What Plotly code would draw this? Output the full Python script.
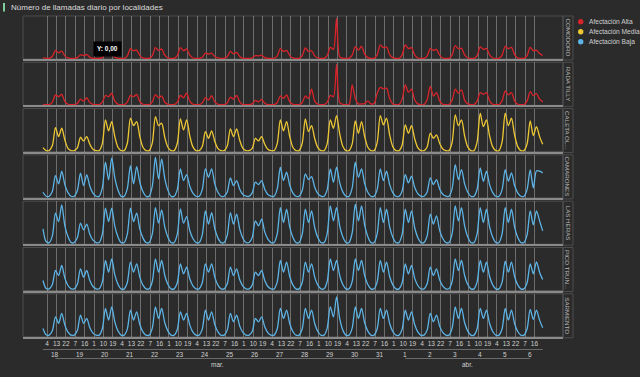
import pandas as pd
import plotly.graph_objects as go
from plotly.subplots import make_subplots

TITLE = "Número de llamadas diario por localidades"
LOCALIDADES = ["COMODORO", "RADA TILLY", "CALETA OL...", "CAMARONES",
               "LAS HERAS", "PICO TRUN...", "SARMIENTO"]
AFECTACION = ["Alta", "Alta", "Media", "Baja", "Baja", "Baja", "Baja"]
LEGEND_LABELS = ["Afectación Alta", "Afectación Media", "Afectación Baja"]
LEGEND_KEYS = ["Alta", "Media", "Baja"]
COLORS = {"Alta": "#d8232a", "Media": "#eec833", "Baja": "#5db4e6"}

# samples every 3 hours: 00,03,06,09,12,15,18,21 per day, 18-mar .. 6-abr, plus 7-abr 00h
TIMES = pd.date_range("2020-03-18 00:00", "2020-04-07 00:00", freq="3h")
DAYS = ["18", "19", "20", "21", "22", "23", "24", "25", "26", "27", "28", "29", "30", "31",
        "1", "2", "3", "4", "5", "6"]
DAY_DATES = pd.date_range("2020-03-18 12:00", "2020-04-06 12:00", freq="D")
MONTHS = ["mar.", "abr."]
MONTH_DATES = ["2020-03-25 00:00", "2020-04-04 00:00"]
HOUR_TICKS = pd.date_range("2020-03-18 04:00", "2020-04-06 16:00", freq="9h")

comodoro = [
    3, 2, 2, 8, 25, 18, 23, 9,
    3, 2, 2, 4, 12, 10, 13, 5,
    2, 2, 2, 4, 13, 10, 12, 5,
    2, 2, 2, 9, 30, 24, 26, 10,
    3, 2, 2, 10, 33, 25, 29, 11,
    3, 2, 2, 10, 33, 24, 29, 11,
    3, 2, 2, 5, 17, 14, 17, 7,
    3, 2, 2, 7, 22, 15, 19, 7,
    2, 2, 2, 3, 10, 9, 11, 4,
    2, 2, 2, 9, 30, 22, 25, 10,
    3, 2, 2, 10, 32, 22, 24, 9,
    3, 2, 2, 10, 34, 28, 119, 6,
    2, 2, 2, 11, 36, 26, 37, 14,
    4, 2, 2, 12, 41, 33, 35, 13,
    4, 2, 2, 12, 41, 30, 33, 12,
    3, 2, 2, 9, 30, 25, 28, 11,
    3, 2, 2, 12, 39, 30, 31, 12,
    3, 2, 2, 10, 35, 28, 31, 12,
    3, 2, 2, 11, 37, 30, 34, 13,
    3, 2, 2, 10, 34, 24, 26, 16,
    10]
rada_tilly = [
    3, 2, 2, 9, 30, 25, 32, 11,
    3, 2, 2, 5, 18, 12, 22, 8,
    3, 2, 2, 9, 29, 25, 35, 12,
    3, 2, 2, 9, 29, 25, 32, 11,
    3, 2, 2, 10, 31, 22, 27, 9,
    3, 2, 2, 9, 29, 22, 35, 12,
    3, 2, 2, 7, 22, 15, 28, 10,
    3, 2, 2, 7, 24, 18, 29, 10,
    2, 2, 2, 4, 14, 10, 17, 6,
    2, 2, 2, 8, 27, 20, 30, 10,
    3, 2, 2, 8, 27, 20, 47, 12,
    3, 2, 2, 9, 29, 25, 119, 8,
    3, 2, 2, 59, 20, 4, 4, 5,
    13, 4, 5, 35, 52, 48, 50, 20,
    4, 2, 2, 18, 59, 38, 47, 16,
    4, 2, 2, 17, 55, 27, 37, 13,
    3, 2, 2, 15, 47, 35, 45, 15,
    4, 2, 2, 12, 37, 32, 37, 13,
    3, 2, 2, 13, 42, 30, 37, 13,
    3, 2, 2, 12, 40, 28, 34, 18,
    10]
caleta_ol = [
    12, 3, 3, 18, 72, 45, 70, 35,
    10, 3, 3, 11, 43, 32, 45, 22,
    7, 3, 3, 24, 95, 62, 90, 45,
    13, 3, 3, 25, 100, 78, 90, 45,
    13, 3, 3, 26, 105, 78, 85, 42,
    13, 3, 3, 25, 98, 65, 95, 47,
    14, 3, 3, 15, 60, 40, 62, 31,
    9, 3, 3, 17, 68, 45, 68, 34,
    10, 3, 3, 10, 40, 32, 45, 22,
    7, 3, 3, 24, 95, 62, 90, 45,
    13, 3, 3, 25, 98, 60, 78, 39,
    12, 3, 3, 24, 95, 70, 108, 54,
    16, 3, 3, 23, 92, 55, 90, 45,
    13, 3, 3, 27, 108, 80, 100, 50,
    15, 3, 3, 20, 80, 55, 78, 39,
    12, 3, 3, 14, 55, 40, 50, 25,
    8, 3, 3, 28, 110, 78, 95, 47,
    14, 3, 3, 29, 115, 75, 95, 47,
    14, 3, 3, 29, 115, 78, 100, 50,
    15, 3, 3, 23, 92, 48, 75, 45,
    22]
camarones = [
    17, 5, 5, 20, 67, 42, 80, 40,
    16, 5, 5, 22, 74, 37, 70, 35,
    14, 5, 5, 30, 107, 54, 120, 60,
    24, 5, 5, 28, 97, 42, 94, 47,
    19, 5, 5, 35, 122, 57, 117, 58,
    23, 5, 5, 25, 87, 52, 70, 35,
    14, 5, 5, 25, 87, 62, 87, 43,
    17, 5, 5, 18, 60, 37, 52, 26,
    10, 5, 5, 15, 47, 40, 52, 26,
    10, 5, 5, 27, 92, 52, 77, 38,
    15, 5, 5, 22, 72, 55, 64, 32,
    13, 5, 5, 25, 87, 47, 92, 46,
    18, 5, 5, 30, 107, 62, 87, 43,
    17, 5, 5, 25, 87, 52, 80, 40,
    16, 5, 5, 21, 70, 45, 65, 32,
    13, 5, 5, 18, 60, 40, 55, 27,
    11, 5, 5, 28, 100, 55, 85, 42,
    17, 5, 5, 26, 90, 50, 80, 40,
    16, 5, 5, 25, 85, 50, 75, 37,
    15, 5, 5, 25, 84, 30, 81, 80,
    75]
las_heras = [
    46, 8, 5, 25, 93, 68, 118, 55,
    23, 5, 5, 19, 63, 43, 60, 30,
    12, 5, 5, 30, 108, 68, 108, 54,
    22, 5, 5, 30, 108, 68, 93, 46,
    19, 5, 5, 31, 110, 63, 103, 51,
    21, 5, 5, 30, 106, 63, 83, 41,
    17, 5, 5, 28, 100, 60, 95, 47,
    19, 5, 5, 27, 95, 60, 90, 45,
    18, 5, 5, 20, 70, 55, 75, 37,
    15, 5, 5, 31, 110, 65, 105, 52,
    21, 5, 5, 30, 105, 65, 100, 50,
    20, 5, 5, 32, 115, 70, 110, 55,
    22, 5, 5, 34, 120, 70, 115, 57,
    23, 5, 5, 31, 110, 65, 105, 52,
    21, 5, 5, 30, 105, 65, 100, 50,
    20, 5, 5, 25, 90, 60, 85, 42,
    17, 5, 5, 32, 115, 70, 110, 55,
    22, 5, 5, 31, 110, 65, 105, 52,
    21, 5, 5, 31, 110, 65, 105, 52,
    21, 5, 5, 28, 100, 58, 100, 70,
    40]
pico_trun = [
    30, 6, 5, 18, 60, 45, 75, 37,
    15, 5, 5, 19, 65, 40, 60, 30,
    12, 5, 5, 26, 90, 55, 95, 47,
    19, 5, 5, 24, 85, 55, 80, 40,
    16, 5, 5, 27, 95, 55, 90, 45,
    18, 5, 5, 23, 80, 50, 70, 35,
    14, 5, 5, 23, 80, 55, 80, 40,
    16, 5, 5, 20, 70, 45, 65, 32,
    13, 5, 5, 16, 55, 45, 60, 30,
    12, 5, 5, 26, 90, 55, 85, 42,
    17, 5, 5, 24, 85, 55, 80, 40,
    16, 5, 5, 27, 95, 60, 90, 45,
    18, 5, 5, 27, 95, 60, 90, 45,
    18, 5, 5, 26, 90, 55, 85, 42,
    17, 5, 5, 23, 80, 50, 75, 37,
    15, 5, 5, 20, 70, 45, 65, 32,
    13, 5, 5, 27, 95, 60, 90, 45,
    18, 5, 5, 26, 90, 55, 85, 42,
    17, 5, 5, 25, 88, 55, 85, 42,
    17, 5, 5, 23, 80, 50, 86, 55,
    33]
sarmiento = [
    25, 6, 5, 18, 60, 40, 70, 35,
    14, 5, 5, 19, 65, 40, 55, 27,
    11, 5, 5, 24, 85, 50, 90, 45,
    18, 5, 5, 23, 80, 50, 75, 37,
    15, 5, 5, 26, 90, 55, 85, 42,
    17, 5, 5, 22, 75, 50, 70, 35,
    14, 5, 5, 23, 80, 50, 75, 37,
    15, 5, 5, 20, 70, 45, 65, 32,
    13, 5, 5, 16, 55, 45, 60, 30,
    12, 5, 5, 24, 85, 55, 80, 40,
    16, 5, 5, 24, 85, 55, 80, 40,
    16, 5, 5, 26, 90, 60, 120, 55,
    20, 5, 5, 26, 90, 55, 85, 42,
    17, 5, 5, 24, 85, 55, 80, 40,
    16, 5, 5, 23, 80, 50, 75, 37,
    15, 5, 5, 20, 70, 45, 65, 32,
    13, 5, 5, 26, 90, 55, 85, 42,
    17, 5, 5, 24, 85, 55, 80, 40,
    16, 5, 5, 24, 85, 50, 80, 40,
    16, 5, 5, 24, 82, 52, 80, 50,
    27]
SERIES = [comodoro, rada_tilly, caleta_ol, camarones, las_heras, pico_trun, sarmiento]
Y_MAX = [125, 125, 129, 129, 129, 129, 129]

# ---------------- layout geometry (pixels) ----------------
W, H = 640, 377
L, R, T, B = 23, 77, 15, 40
PW, PH = W - L - R, H - T - B
PANEL_TOP0, PANEL_BOT0, PANEL_STEP = 16, 59, 46.3


def px_x(px):
    return (px - L) / PW


def px_y(py):
    return 1 - (py - T) / PH


BG = "#2b2b2b"
TXT = "#cfcfcf"
FONT = "Liberation Sans, Arial, sans-serif"

n = len(LOCALIDADES)
fig = make_subplots(rows=n, cols=1, shared_xaxes=True)

for i, (name, vals) in enumerate(zip(LOCALIDADES, SERIES)):
    color = COLORS[AFECTACION[i]]
    fig.add_trace(go.Scatter(x=TIMES, y=vals, mode="lines",
                             line=dict(color=color, width=1.3, shape="spline", smoothing=0.8),
                             name=name, showlegend=False, hoverinfo="skip"),
                  row=i + 1, col=1)

shapes = []
annotations = []
for i in range(n):
    top = PANEL_TOP0 + PANEL_STEP * i
    bot = PANEL_BOT0 + PANEL_STEP * i
    ya = "yaxis" if i == 0 else f"yaxis{i + 1}"
    xa = "xaxis" if i == 0 else f"xaxis{i + 1}"
    fig.layout[ya].update(domain=[px_y(bot), px_y(top)], range=[0, Y_MAX[i]],
                          showgrid=False, zeroline=False, showticklabels=False,
                          showline=False)
    fig.layout[xa].update(domain=[0, 1], type="date",
                          range=["2020-03-17 04:48", "2020-04-07 19:30"],
                          tickvals=HOUR_TICKS, ticktext=[str(t.hour) for t in HOUR_TICKS],
                          tickangle=0, automargin=False,
                          showgrid=True, gridcolor="rgba(200,200,200,0.42)", gridwidth=1,
                          zeroline=False, showline=True, linecolor="#8a8a8a", linewidth=1.5,
                          showticklabels=(i == n - 1), ticks="",
                          tickfont=dict(size=6.5, color=TXT, family=FONT))
    # panel frame
    shapes.append(dict(type="rect", xref="paper", yref="paper",
                       x0=px_x(23), x1=px_x(563), y0=px_y(bot), y1=px_y(top),
                       line=dict(color="#4e4e4e", width=1), layer="below"))
    # facet label cell
    shapes.append(dict(type="rect", xref="paper", yref="paper",
                       x0=px_x(563), x1=px_x(573), y0=px_y(bot + 1), y1=px_y(top),
                       line=dict(color="#4e4e4e", width=1), layer="below"))
    annotations.append(dict(text=LOCALIDADES[i], xref="paper", yref="paper",
                            x=px_x(568), y=px_y((top + bot) / 2), textangle=90,
                            showarrow=False, font=dict(size=6.2, color="#b8b8b8", family=FONT),
                            xanchor="center", yanchor="middle"))

# day labels and month labels
for d, dd in zip(DAYS, DAY_DATES):
    annotations.append(dict(text=d, xref="x7", yref="paper", x=dd, y=px_y(354.5),
                            showarrow=False, font=dict(size=6.5, color=TXT, family=FONT),
                            xanchor="center", yanchor="middle"))
for m, md in zip(MONTHS, MONTH_DATES):
    annotations.append(dict(text=m, xref="x7", yref="paper", x=md, y=px_y(364.5),
                            showarrow=False, font=dict(size=6.5, color=TXT, family=FONT),
                            xanchor="center", yanchor="middle"))
# header rule lines
shapes.append(dict(type="line", xref="x7", yref="paper", x0=TIMES[0], x1=TIMES[-1],
                   y0=px_y(349.5), y1=px_y(349.5), line=dict(color="#6a6a6a", width=1)))
for a, b in [(DAY_DATES[0], DAY_DATES[13]), (DAY_DATES[14], DAY_DATES[19])]:
    shapes.append(dict(type="line", xref="x7", yref="paper", x0=a, x1=b,
                       y0=px_y(358.5), y1=px_y(358.5), line=dict(color="#6a6a6a", width=1)))

# title
shapes.append(dict(type="rect", xref="paper", yref="paper", x0=px_x(3), x1=px_x(5),
                   y0=px_y(11.5), y1=px_y(3), fillcolor="#7fcf9c", line=dict(width=0)))
annotations.append(dict(text=TITLE, xref="paper", yref="paper", x=px_x(8.5), y=px_y(7.5),
                        showarrow=False, xanchor="left", yanchor="middle",
                        font=dict(size=8, color="#dcdcdc", family=FONT)))

# legend
for k, (lab, key) in enumerate(zip(LEGEND_LABELS, LEGEND_KEYS)):
    cy = 21.7 + 10 * k
    shapes.append(dict(type="circle", xref="paper", yref="paper",
                       x0=px_x(578), x1=px_x(583.4), y0=px_y(cy + 2.7), y1=px_y(cy - 2.7),
                       fillcolor=COLORS[key], line=dict(width=0)))
    annotations.append(dict(text=lab, xref="paper", yref="paper", x=px_x(586.5), y=px_y(cy),
                            showarrow=False, xanchor="left", yanchor="middle",
                            font=dict(size=6.6, color="#d0d0d0", family=FONT)))

# hover tooltip visible in the screenshot
annotations.append(dict(text="<b>Y: 0,00</b>", xref="paper", yref="paper",
                        x=px_x(107.5), y=px_y(48.5), showarrow=False,
                        xanchor="center", yanchor="middle", bgcolor="#000000",
                        borderpad=3, font=dict(size=6.5, color="#ffffff", family=FONT)))

fig.update_layout(width=W, height=H, margin=dict(l=L, r=R, t=T, b=B),
                  paper_bgcolor=BG, plot_bgcolor=BG, shapes=shapes,
                  annotations=annotations, showlegend=False,
                  font=dict(family=FONT, color=TXT))

fig.write_html("out.html", config={"displayModeBar": False},
               post_script="document.body.style.margin='0';document.body.style.background='#2b2b2b';")
